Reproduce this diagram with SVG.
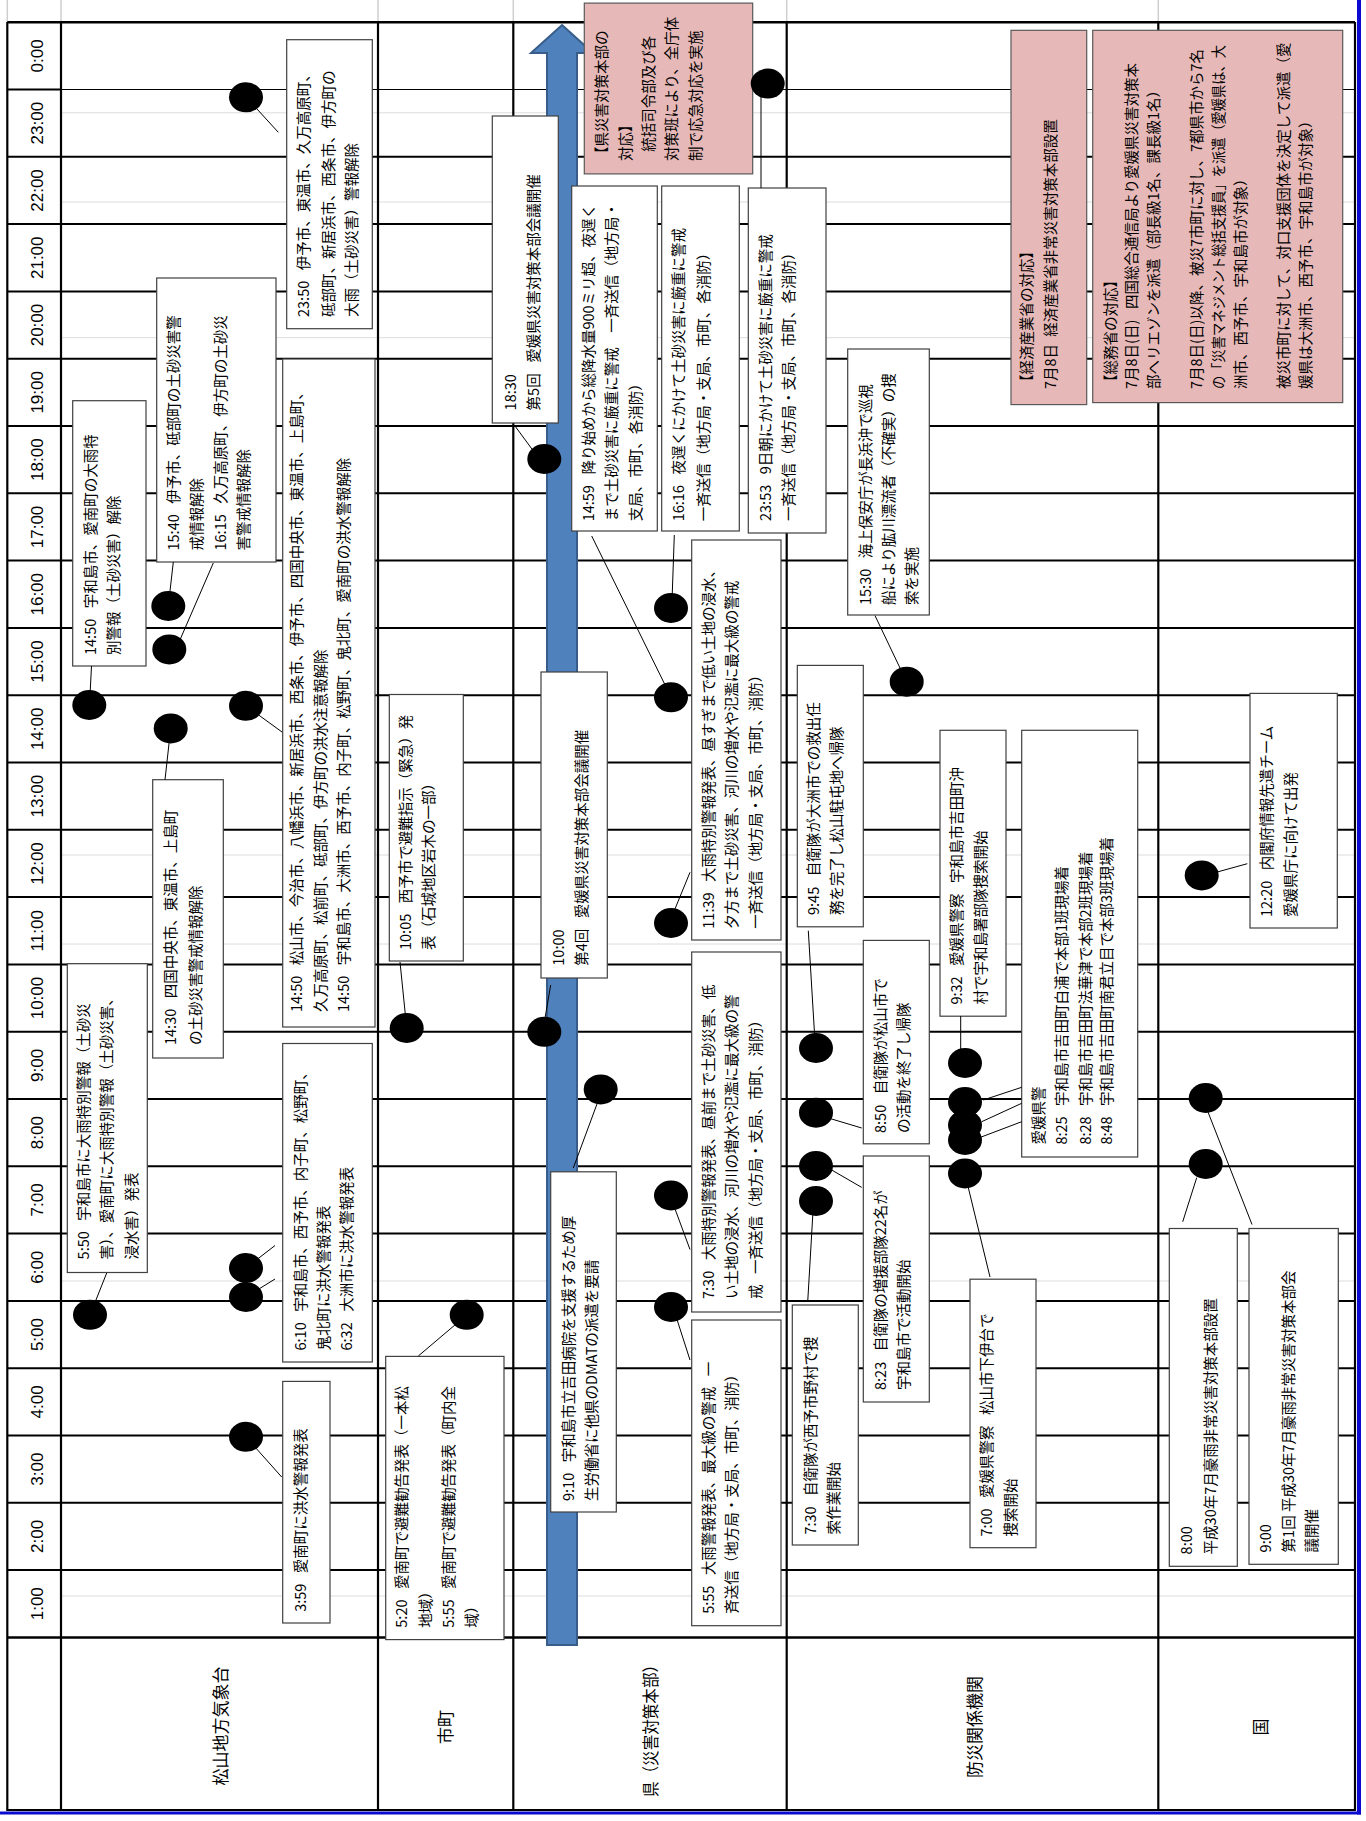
<svg xmlns="http://www.w3.org/2000/svg" width="1366" height="1821" viewBox="0 0 1366 1821">
<style>
.hl{stroke:#000;stroke-width:2}
.hl1{stroke:#000;stroke-width:1}
.vl{stroke:#000;stroke-width:2.2}
.gl{stroke:#dcdcdc;stroke-width:1}
.gt{stroke:#cfcfcf;stroke-width:1.5}
.bx{fill:#fff;stroke:#404040;stroke-width:1.2}
.pk{fill:#e6b9b8;stroke:#595959;stroke-width:1.2}
.cn{stroke:#000;stroke-width:1;fill:none}
.dt{fill:#000}
text{font-family:"Noto Sans CJK JP","Noto Sans CJK SC",sans-serif;font-size:14.5px;fill:#000}
.hr{font-family:"Liberation Sans",Arial,sans-serif;font-size:17px;text-anchor:middle}
.rh{font-size:17px;text-anchor:middle}
</style>
<rect x="0" y="0" width="1366" height="1821" fill="#fff"/>
<g id="grid">
<line class="gt" x1="7.3" y1="0" x2="7.3" y2="22"/>
<line class="gt" x1="61" y1="0" x2="61" y2="22"/>
<line class="gt" x1="378" y1="0" x2="378" y2="22"/>
<line class="gt" x1="513.3" y1="0" x2="513.3" y2="22"/>
<line class="gt" x1="786.7" y1="0" x2="786.7" y2="22"/>
<line class="gt" x1="1158.3" y1="0" x2="1158.3" y2="22"/>
<line class="gl" x1="61" y1="112.8" x2="1355" y2="112.8"/>
<line class="gl" x1="61" y1="202" x2="1355" y2="202"/>
<line class="gl" x1="61" y1="337.7" x2="1355" y2="337.7"/>
<line class="gl" x1="61" y1="855" x2="1355" y2="855"/>
<line class="gl" x1="61" y1="944" x2="1355" y2="944"/>
<line class="gl" x1="61" y1="1281" x2="1355" y2="1281"/>
<line class="gl" x1="61" y1="1596" x2="1355" y2="1596"/>
<line class="hl" x1="7.3" y1="22.2" x2="1355" y2="22.2" style="stroke-width:2.5"/>
<line class="hl" x1="7.3" y1="89.5" x2="61" y2="89.5"/>
<line class="hl1" x1="61" y1="89.5" x2="1355" y2="89.5"/>
<line class="hl" x1="7.3" y1="156.8" x2="1355" y2="156.8"/>
<line class="hl" x1="7.3" y1="224.1" x2="1355" y2="224.1"/>
<line class="hl" x1="7.3" y1="291.4" x2="1355" y2="291.4"/>
<line class="hl" x1="7.3" y1="358.7" x2="1355" y2="358.7"/>
<line class="hl" x1="7.3" y1="426" x2="1355" y2="426"/>
<line class="hl" x1="7.3" y1="493.3" x2="1355" y2="493.3"/>
<line class="hl" x1="7.3" y1="560.6" x2="1355" y2="560.6"/>
<line class="hl" x1="7.3" y1="627.9" x2="1355" y2="627.9"/>
<line class="hl" x1="7.3" y1="695.2" x2="1355" y2="695.2"/>
<line class="hl" x1="7.3" y1="762.5" x2="1355" y2="762.5"/>
<line class="hl" x1="7.3" y1="829.8" x2="1355" y2="829.8"/>
<line class="hl" x1="7.3" y1="897.1" x2="1355" y2="897.1"/>
<line class="hl" x1="7.3" y1="964.4" x2="1355" y2="964.4"/>
<line class="hl" x1="7.3" y1="1031.7" x2="1355" y2="1031.7"/>
<line class="hl" x1="7.3" y1="1099" x2="1355" y2="1099"/>
<line class="hl" x1="7.3" y1="1166.3" x2="1355" y2="1166.3"/>
<line class="hl" x1="7.3" y1="1233.6" x2="1355" y2="1233.6"/>
<line class="hl" x1="7.3" y1="1300.9" x2="1355" y2="1300.9"/>
<line class="hl" x1="7.3" y1="1368.2" x2="1355" y2="1368.2"/>
<line class="hl" x1="7.3" y1="1435.5" x2="1355" y2="1435.5"/>
<line class="hl" x1="7.3" y1="1502.8" x2="1355" y2="1502.8"/>
<line class="hl" x1="7.3" y1="1570.1" x2="1355" y2="1570.1"/>
<line class="hl" x1="7.3" y1="1637.4" x2="1355" y2="1637.4" style="stroke-width:2.5"/>
<line class="hl" x1="7.3" y1="1810" x2="1355" y2="1810"/>
<line class="vl" x1="7.3" y1="22" x2="7.3" y2="1811"/>
<line class="vl" x1="61" y1="22" x2="61" y2="1811"/>
<line class="vl" x1="378" y1="22" x2="378" y2="1811"/>
<line class="vl" x1="513.3" y1="22" x2="513.3" y2="1811"/>
<line class="vl" x1="786.7" y1="22" x2="786.7" y2="1811"/>
<line class="vl" x1="1158.3" y1="22" x2="1158.3" y2="1811"/>
<line class="vl" x1="1355" y1="22" x2="1355" y2="1811"/>
<line x1="0" y1="1813" x2="1361" y2="1813" stroke="#0a0ad0" stroke-width="3"/>
<line x1="1359" y1="0" x2="1359" y2="1814.5" stroke="#0a0ad0" stroke-width="4"/>
</g>
<g id="time-axis">
<text class="hr" transform="translate(42.5,55.85) rotate(-90)">0:00</text>
<text class="hr" transform="translate(42.5,123.15) rotate(-90)">23:00</text>
<text class="hr" transform="translate(42.5,190.45) rotate(-90)">22:00</text>
<text class="hr" transform="translate(42.5,257.75) rotate(-90)">21:00</text>
<text class="hr" transform="translate(42.5,325.05) rotate(-90)">20:00</text>
<text class="hr" transform="translate(42.5,392.35) rotate(-90)">19:00</text>
<text class="hr" transform="translate(42.5,459.65) rotate(-90)">18:00</text>
<text class="hr" transform="translate(42.5,526.95) rotate(-90)">17:00</text>
<text class="hr" transform="translate(42.5,594.25) rotate(-90)">16:00</text>
<text class="hr" transform="translate(42.5,661.55) rotate(-90)">15:00</text>
<text class="hr" transform="translate(42.5,728.85) rotate(-90)">14:00</text>
<text class="hr" transform="translate(42.5,796.15) rotate(-90)">13:00</text>
<text class="hr" transform="translate(42.5,863.45) rotate(-90)">12:00</text>
<text class="hr" transform="translate(42.5,930.75) rotate(-90)">11:00</text>
<text class="hr" transform="translate(42.5,998.05) rotate(-90)">10:00</text>
<text class="hr" transform="translate(42.5,1065.35) rotate(-90)">9:00</text>
<text class="hr" transform="translate(42.5,1132.65) rotate(-90)">8:00</text>
<text class="hr" transform="translate(42.5,1199.95) rotate(-90)">7:00</text>
<text class="hr" transform="translate(42.5,1267.25) rotate(-90)">6:00</text>
<text class="hr" transform="translate(42.5,1334.55) rotate(-90)">5:00</text>
<text class="hr" transform="translate(42.5,1401.85) rotate(-90)">4:00</text>
<text class="hr" transform="translate(42.5,1469.15) rotate(-90)">3:00</text>
<text class="hr" transform="translate(42.5,1536.45) rotate(-90)">2:00</text>
<text class="hr" transform="translate(42.5,1603.75) rotate(-90)">1:00</text>
</g>
<g id="row-headers">
<text class="rh" transform="translate(226.5,1726) rotate(-90)">松山地方気象台</text>
<text class="rh" transform="translate(451.5,1727) rotate(-90)">市町</text>
<text class="rh" transform="translate(656.5,1727) rotate(-90)" textLength="140" lengthAdjust="spacingAndGlyphs">県（災害対策本部）</text>
<text class="rh" transform="translate(980.5,1727) rotate(-90)">防災関係機関</text>
<text class="rh" transform="translate(1266.5,1727) rotate(-90)">国</text>
</g>
<g id="arrow">
<polygon points="562,25 593,53 577,53 577,1645 547,1645 547,53 531,53" fill="#4f81bd" stroke="#385d8a" stroke-width="2"/>
</g>
<g id="n-ken-taio">
<rect class="pk" x="584.3" y="3.1" width="168.4" height="170.8"/>
<text transform="translate(607.2,161) rotate(-90)">【県災害対策本部の</text>
<text transform="translate(630.5,161) rotate(-90)">対応】</text>
<text transform="translate(653.8,151.7) rotate(-90)">統括司令部及び各</text>
<text transform="translate(677.2,161) rotate(-90)">対策班により、全庁体</text>
<text transform="translate(700.5,161) rotate(-90)">制で応急対応を実施</text>
</g>
<g id="n-meti">
<rect class="pk" x="1011" y="30.3" width="75.7" height="374.3"/>
<text transform="translate(1032.2,389) rotate(-90)">【経済産業省の対応】</text>
<text transform="translate(1055.5,389) rotate(-90)">7月8日&#x2002;経済産業省非常災害対策本部設置</text>
</g>
<g id="n-soumu">
<rect class="pk" x="1092.7" y="30.3" width="250" height="372.3"/>
<text transform="translate(1115.5,389) rotate(-90)">【総務省の対応】</text>
<text transform="translate(1137.2,389) rotate(-90)">7月8日(日)&#x2002; 四国総合通信局より愛媛県災害対策本</text>
<text transform="translate(1158.8,389) rotate(-90)">部へリエゾンを派遣（部長級1名、課長級1名）</text>
<text transform="translate(1202.2,389) rotate(-90)">7月8日(日)以降、被災7市町に対し、7都県市から7名</text>
<text transform="translate(1223.8,389) rotate(-90)" textLength="344" lengthAdjust="spacingAndGlyphs">の「災害マネジメント総括支援員」を派遣（愛媛県は、大</text>
<text transform="translate(1245.5,389) rotate(-90)">洲市、西予市、宇和島市が対象）</text>
<text transform="translate(1288.8,389) rotate(-90)">被災市町に対して、対口支援団体を決定して派遣（愛</text>
<text transform="translate(1310.5,389) rotate(-90)">媛県は大洲市、西予市、宇和島市が対象）</text>
</g>
<g id="n-m2350">
<rect class="bx" x="286.7" y="39.7" width="85.6" height="289"/>
<text transform="translate(308.8,317) rotate(-90)">23:50&#x2002; 伊予市、東温市、久万高原町、</text>
<text transform="translate(333.8,317) rotate(-90)">砥部町、新居浜市、西条市、伊方町の</text>
<text transform="translate(357.2,317) rotate(-90)">大雨（土砂災害）警報解除</text>
</g>
<g id="n-m1450a">
<rect class="bx" x="72.7" y="400.7" width="73.3" height="265.3"/>
<text transform="translate(95.5,655) rotate(-90)">14:50&#x2002; 宇和島市、愛南町の大雨特</text>
<text transform="translate(118.8,655) rotate(-90)">別警報（土砂災害）解除</text>
</g>
<g id="n-m1540">
<rect class="bx" x="156.7" y="278" width="119.3" height="284"/>
<text transform="translate(178.8,550.5) rotate(-90)">15:40&#x2002; 伊予市、砥部町の土砂災害警</text>
<text transform="translate(202.2,550.5) rotate(-90)">戒情報解除</text>
<text transform="translate(225.5,550.5) rotate(-90)">16:15&#x2002; 久万高原町、伊方町の土砂災</text>
<text transform="translate(248.8,550.5) rotate(-90)">害警戒情報解除</text>
</g>
<g id="n-m1430">
<rect class="bx" x="152.7" y="779.7" width="70.6" height="278.3"/>
<text transform="translate(175.5,1045) rotate(-90)">14:30&#x2002; 四国中央市、東温市、上島町</text>
<text transform="translate(200.5,1045) rotate(-90)">の土砂災害警戒情報解除</text>
</g>
<g id="n-m1450b">
<rect class="bx" x="282.7" y="359" width="92.3" height="668"/>
<text transform="translate(302.2,1012) rotate(-90)">14:50&#x2002; 松山市、今治市、八幡浜市、新居浜市、西条市、伊予市、四国中央市、東温市、上島町、</text>
<text transform="translate(325.5,1012) rotate(-90)">久万高原町、松前町、砥部町、伊方町の洪水注意報解除</text>
<text transform="translate(348.8,1012) rotate(-90)">14:50&#x2002; 宇和島市、大洲市、西予市、内子町、松野町、鬼北町、愛南町の洪水警報解除</text>
</g>
<g id="n-m0610">
<rect class="bx" x="282.7" y="1043.5" width="89.6" height="318.5"/>
<text transform="translate(305.5,1350.5) rotate(-90)">6:10&#x2002; 宇和島市、西予市、内子町、松野町、</text>
<text transform="translate(328.8,1350.5) rotate(-90)">鬼北町に洪水警報発表</text>
<text transform="translate(352.2,1350.5) rotate(-90)">6:32&#x2002; 大洲市に洪水警報発表</text>
</g>
<g id="n-m0550">
<rect class="bx" x="67.3" y="963.7" width="80" height="308.8"/>
<text transform="translate(88.8,1259.4) rotate(-90)">5:50&#x2002; 宇和島市に大雨特別警報（土砂災</text>
<text transform="translate(112.2,1259.4) rotate(-90)">害）、愛南町に大雨特別警報（土砂災害、</text>
<text transform="translate(137.2,1259.4) rotate(-90)">浸水害）発表</text>
</g>
<g id="n-m0359">
<rect class="bx" x="282.7" y="1381.4" width="47.3" height="241.6"/>
<text transform="translate(305.5,1611.8) rotate(-90)">3:59&#x2002; 愛南町に洪水警報発表</text>
</g>
<g id="n-c1005">
<rect class="bx" x="389.3" y="694.5" width="74" height="266.5"/>
<text transform="translate(410.5,950) rotate(-90)">10:05&#x2002; 西予市で避難指示（緊急）発</text>
<text transform="translate(433.8,950) rotate(-90)">表（石城地区岩木の一部）</text>
</g>
<g id="n-c0520">
<rect class="bx" x="385.7" y="1356.4" width="118.3" height="283.2"/>
<text transform="translate(407.2,1627.7) rotate(-90)">5:20&#x2002; 愛南町で避難勧告発表（一本松</text>
<text transform="translate(430.5,1627.7) rotate(-90)">地域）</text>
<text transform="translate(453.8,1627.7) rotate(-90)">5:55&#x2002; 愛南町で避難勧告発表（町内全</text>
<text transform="translate(477.2,1627.7) rotate(-90)">域）</text>
</g>
<g id="n-k1830">
<rect class="bx" x="492.3" y="116" width="66" height="307"/>
<text transform="translate(515.5,410.4) rotate(-90)">18:30</text>
<text transform="translate(538.8,410.4) rotate(-90)">第5回&#x2002; 愛媛県災害対策本部会議開催</text>
</g>
<g id="n-k1000">
<rect class="bx" x="541" y="672" width="66.3" height="306"/>
<text transform="translate(563.8,965.7) rotate(-90)">10:00</text>
<text transform="translate(587.2,965.7) rotate(-90)">第4回&#x2002; 愛媛県災害対策本部会議開催</text>
</g>
<g id="n-k0910">
<rect class="bx" x="550.7" y="1171.8" width="65.6" height="340.2"/>
<text transform="translate(573.8,1501) rotate(-90)">9:10&#x2002; 宇和島市立吉田病院を支援するため厚</text>
<text transform="translate(597.2,1501) rotate(-90)">生労働省に他県のDMATの派遣を要請</text>
</g>
<g id="n-k1459">
<rect class="bx" x="571.7" y="186" width="85.6" height="345"/>
<text transform="translate(593.8,521.3) rotate(-90)">14:59&#x2002; 降り始めから総降水量900ミリ超、夜遅く</text>
<text transform="translate(617.2,521.3) rotate(-90)">まで土砂災害に厳重に警戒　一斉送信（地方局・</text>
<text transform="translate(640.5,521.3) rotate(-90)">支局、市町、各消防）</text>
</g>
<g id="n-k1616">
<rect class="bx" x="661.7" y="186" width="77.6" height="345"/>
<text transform="translate(683.8,521.3) rotate(-90)">16:16&#x2002; 夜遅くにかけて土砂災害に厳重に警戒</text>
<text transform="translate(708.8,521.3) rotate(-90)">一斉送信（地方局・支局、市町、各消防）</text>
</g>
<g id="n-k2353">
<rect class="bx" x="748.3" y="188" width="77.7" height="345"/>
<text transform="translate(770.5,521) rotate(-90)">23:53&#x2002; 9日朝にかけて土砂災害に厳重に警戒</text>
<text transform="translate(793.8,521) rotate(-90)">一斉送信（地方局・支局、市町、各消防）</text>
</g>
<g id="n-k1139">
<rect class="bx" x="691.7" y="540" width="89.3" height="400"/>
<text transform="translate(713.8,928.7) rotate(-90)">11:39&#x2002; 大雨特別警報発表、昼すぎまで低い土地の浸水、</text>
<text transform="translate(737.2,928.7) rotate(-90)">夕方まで土砂災害、河川の増水や氾濫に最大級の警戒</text>
<text transform="translate(760.5,928.7) rotate(-90)">一斉送信（地方局・支局、市町、消防）</text>
</g>
<g id="n-k0730">
<rect class="bx" x="691.7" y="952" width="89.3" height="360"/>
<text transform="translate(713.8,1299) rotate(-90)">7:30&#x2002; 大雨特別警報発表、昼前まで土砂災害、低</text>
<text transform="translate(737.2,1299) rotate(-90)">い土地の浸水、河川の増水や氾濫に最大級の警</text>
<text transform="translate(760.5,1299) rotate(-90)">戒&#x2002; 一斉送信（地方局・支局、市町、消防）</text>
</g>
<g id="n-k0555">
<rect class="bx" x="691.7" y="1320" width="89.3" height="305.7"/>
<text transform="translate(713.8,1613.8) rotate(-90)">5:55&#x2002; 大雨警報発表、最大級の警戒&#x2002; 一</text>
<text transform="translate(737.2,1613.8) rotate(-90)">斉送信（地方局・支局、市町、消防）</text>
</g>
<g id="n-b1530">
<rect class="bx" x="847.7" y="349" width="81.6" height="266"/>
<text transform="translate(870.5,605) rotate(-90)">15:30&#x2002; 海上保安庁が長浜沖で巡視</text>
<text transform="translate(893.8,605) rotate(-90)">船により肱川漂流者（不確実）の捜</text>
<text transform="translate(917.2,605) rotate(-90)">索を実施</text>
</g>
<g id="n-b0945">
<rect class="bx" x="797.3" y="665.4" width="66" height="261.4"/>
<text transform="translate(818.8,915) rotate(-90)">9:45&#x2002; 自衛隊が大洲市での救出任</text>
<text transform="translate(842.2,915) rotate(-90)">務を完了し松山駐屯地へ帰隊</text>
</g>
<g id="n-b0850">
<rect class="bx" x="863.3" y="940.4" width="66" height="203.4"/>
<text transform="translate(885.5,1133) rotate(-90)">8:50&#x2002; 自衛隊が松山市で</text>
<text transform="translate(908.8,1133) rotate(-90)">の活動を終了し帰隊</text>
</g>
<g id="n-b0823">
<rect class="bx" x="863.3" y="1156" width="66" height="246"/>
<text transform="translate(885.5,1390) rotate(-90)">8:23&#x2002; 自衛隊の増援部隊22名が</text>
<text transform="translate(908.8,1390) rotate(-90)">宇和島市で活動開始</text>
</g>
<g id="n-b0730">
<rect class="bx" x="792.3" y="1305" width="66" height="240"/>
<text transform="translate(815.5,1534.6) rotate(-90)">7:30&#x2002; 自衛隊が西予市野村で捜</text>
<text transform="translate(838.8,1534.6) rotate(-90)">索作業開始</text>
</g>
<g id="n-b0932">
<rect class="bx" x="940" y="730.3" width="66" height="285.9"/>
<text transform="translate(962.2,1004.6) rotate(-90)">9:32&#x2002; 愛媛県警察&#x2002; 宇和島市吉田町沖</text>
<text transform="translate(985.5,1004.6) rotate(-90)">村で宇和島署部隊捜索開始</text>
</g>
<g id="n-b0825">
<rect class="bx" x="1021.7" y="730.3" width="116" height="426.7"/>
<text transform="translate(1043.8,1144.6) rotate(-90)">愛媛県警</text>
<text transform="translate(1067.2,1144.6) rotate(-90)">8:25&#x2002; 宇和島市吉田町白浦で本部1班現場着</text>
<text transform="translate(1090.5,1144.6) rotate(-90)">8:28&#x2002; 宇和島市吉田町法華津で本部2班現場着</text>
<text transform="translate(1112.2,1144.6) rotate(-90)">8:48&#x2002; 宇和島市吉田町南君立目で本部3班現場着</text>
</g>
<g id="n-b0700">
<rect class="bx" x="970" y="1279.2" width="66" height="268.5"/>
<text transform="translate(992.2,1536.6) rotate(-90)">7:00&#x2002; 愛媛県警察&#x2002; 松山市下伊台で</text>
<text transform="translate(1015.5,1536.6) rotate(-90)">捜索開始</text>
</g>
<g id="n-g1220">
<rect class="bx" x="1250" y="693.4" width="87.3" height="234.6"/>
<text transform="translate(1272.2,917) rotate(-90)">12:20&#x2002; 内閣府情報先遣チーム</text>
<text transform="translate(1295.5,917) rotate(-90)">愛媛県庁に向けて出発</text>
</g>
<g id="n-g0800">
<rect class="bx" x="1169.3" y="1228.5" width="68" height="337.8"/>
<text transform="translate(1192.2,1554.4) rotate(-90)">8:00</text>
<text transform="translate(1215.5,1554.4) rotate(-90)">平成30年7月豪雨非常災害対策本部設置</text>
</g>
<g id="n-g0900">
<rect class="bx" x="1249" y="1228.5" width="89.3" height="335.8"/>
<text transform="translate(1270.5,1552.4) rotate(-90)">9:00</text>
<text transform="translate(1293.8,1552.4) rotate(-90)">第1回 平成30年7月豪雨非常災害対策本部会</text>
<text transform="translate(1317.2,1552.4) rotate(-90)">議開催</text>
</g>
<g id="connectors">
<line class="cn" x1="246" y1="97" x2="278.3" y2="132.3"/>
<line class="cn" x1="89.5" y1="705" x2="91.5" y2="666"/>
<line class="cn" x1="173.3" y1="562" x2="168.3" y2="606"/>
<line class="cn" x1="213.3" y1="563" x2="176" y2="649"/>
<line class="cn" x1="170.7" y1="728.4" x2="165" y2="779.7"/>
<line class="cn" x1="246" y1="705.8" x2="282" y2="732"/>
<line class="cn" x1="246" y1="1268" x2="275" y2="1245.5"/>
<line class="cn" x1="246" y1="1297" x2="275" y2="1279"/>
<line class="cn" x1="90" y1="1315" x2="106.7" y2="1273"/>
<line class="cn" x1="246" y1="1437" x2="281.7" y2="1477"/>
<line class="cn" x1="406.7" y1="1028" x2="400" y2="962"/>
<line class="cn" x1="418.3" y1="1356" x2="466.7" y2="1315"/>
<line class="cn" x1="515" y1="426" x2="540" y2="460"/>
<line class="cn" x1="542.3" y1="1034" x2="550.7" y2="985"/>
<line class="cn" x1="600.7" y1="1094" x2="573.3" y2="1168"/>
<line class="cn" x1="591.7" y1="536" x2="671" y2="697"/>
<line class="cn" x1="674.3" y1="535" x2="671.7" y2="610"/>
<line class="cn" x1="761" y1="97" x2="761" y2="188"/>
<line class="cn" x1="671.7" y1="917" x2="690" y2="872.3"/>
<line class="cn" x1="671.7" y1="1200" x2="690" y2="1249.5"/>
<line class="cn" x1="671.7" y1="1303" x2="690" y2="1360"/>
<line class="cn" x1="875" y1="615.6" x2="906.7" y2="682"/>
<line class="cn" x1="815" y1="1041.5" x2="808.3" y2="930.7"/>
<line class="cn" x1="825" y1="1117" x2="861.7" y2="1128"/>
<line class="cn" x1="831.7" y1="1170" x2="861.7" y2="1187.4"/>
<line class="cn" x1="813.3" y1="1206" x2="807.7" y2="1302"/>
<line class="cn" x1="960.7" y1="1063" x2="960.7" y2="1016"/>
<line class="cn" x1="983.3" y1="1100" x2="1021.7" y2="1087.3"/>
<line class="cn" x1="981.7" y1="1121.7" x2="1021.7" y2="1103.3"/>
<line class="cn" x1="973.3" y1="1140" x2="1021.7" y2="1121.7"/>
<line class="cn" x1="965" y1="1174" x2="990" y2="1277"/>
<line class="cn" x1="1210" y1="874" x2="1247.3" y2="863.7"/>
<line class="cn" x1="1196.7" y1="1177.7" x2="1182.7" y2="1221.8"/>
<line class="cn" x1="1203.3" y1="1100" x2="1252" y2="1224.5"/>
<ellipse class="dt" cx="246" cy="97.3" rx="17" ry="15"/>
<ellipse class="dt" cx="89.3" cy="705" rx="17" ry="15"/>
<ellipse class="dt" cx="168.3" cy="606" rx="17" ry="15"/>
<ellipse class="dt" cx="169.3" cy="649.4" rx="17" ry="15"/>
<ellipse class="dt" cx="170.7" cy="728.4" rx="17" ry="15"/>
<ellipse class="dt" cx="246" cy="705.8" rx="17" ry="15"/>
<ellipse class="dt" cx="246" cy="1268" rx="17" ry="15"/>
<ellipse class="dt" cx="246" cy="1297" rx="17" ry="15"/>
<ellipse class="dt" cx="90" cy="1314.8" rx="17" ry="15"/>
<ellipse class="dt" cx="246" cy="1436.8" rx="17" ry="15"/>
<ellipse class="dt" cx="406.7" cy="1028" rx="17" ry="15"/>
<ellipse class="dt" cx="466.7" cy="1314.8" rx="17" ry="15"/>
<ellipse class="dt" cx="544.3" cy="459" rx="17" ry="15"/>
<ellipse class="dt" cx="544.3" cy="1031.8" rx="17" ry="15"/>
<ellipse class="dt" cx="600.7" cy="1089.4" rx="17" ry="15"/>
<ellipse class="dt" cx="671" cy="697.3" rx="17" ry="15"/>
<ellipse class="dt" cx="671" cy="608" rx="17" ry="15"/>
<ellipse class="dt" cx="767.7" cy="83.6" rx="17" ry="15"/>
<ellipse class="dt" cx="671" cy="923" rx="17" ry="15"/>
<ellipse class="dt" cx="671" cy="1195.5" rx="17" ry="15"/>
<ellipse class="dt" cx="671" cy="1307" rx="17" ry="15"/>
<ellipse class="dt" cx="906.7" cy="681.7" rx="17" ry="15"/>
<ellipse class="dt" cx="816" cy="1048" rx="17" ry="15"/>
<ellipse class="dt" cx="816" cy="1112.7" rx="17" ry="15"/>
<ellipse class="dt" cx="816" cy="1166" rx="17" ry="15"/>
<ellipse class="dt" cx="816" cy="1201" rx="17" ry="15"/>
<ellipse class="dt" cx="965" cy="1063" rx="17" ry="15"/>
<ellipse class="dt" cx="965" cy="1102" rx="17" ry="15"/>
<ellipse class="dt" cx="965" cy="1125" rx="17" ry="15"/>
<ellipse class="dt" cx="965" cy="1140" rx="17" ry="15"/>
<ellipse class="dt" cx="965" cy="1173.5" rx="17" ry="15"/>
<ellipse class="dt" cx="1201.7" cy="875.4" rx="17" ry="15"/>
<ellipse class="dt" cx="1205.7" cy="1164" rx="17" ry="15"/>
<ellipse class="dt" cx="1205.7" cy="1098" rx="17" ry="15"/>
</g>
</svg>
